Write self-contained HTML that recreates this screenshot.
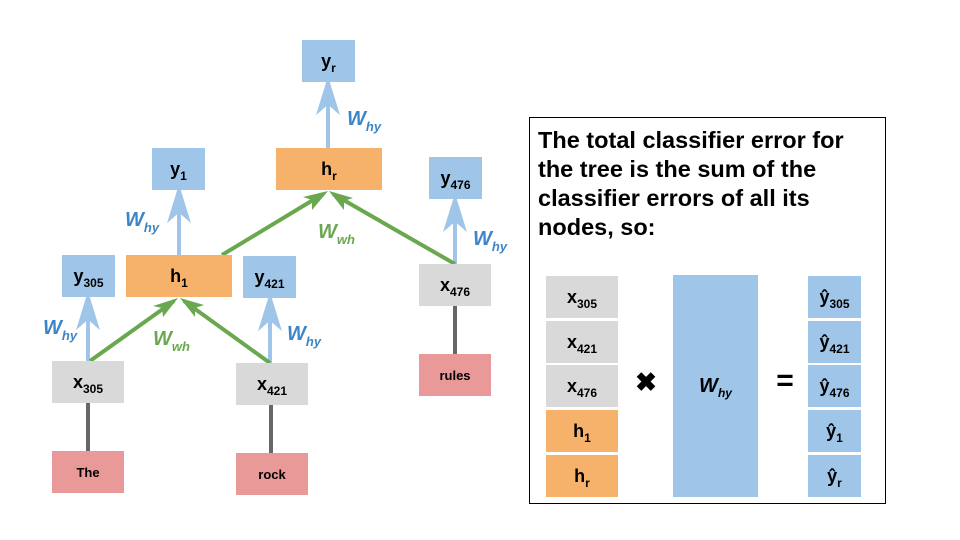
<!DOCTYPE html>
<html><head><meta charset="utf-8"><style>
body{margin:0;width:960px;height:540px;background:#fff;position:relative;overflow:hidden;font-family:"Liberation Sans",Arial,sans-serif;}
.b{position:absolute;display:flex;align-items:center;justify-content:center;font-weight:bold;font-size:18px;color:#000;}
.b sub{font-size:12px;vertical-align:-5px;line-height:0;}
.blue{background:#9fc5e8}.org{background:#f6b26b}.gray{background:#d9d9d9}.red{background:#ea9999}
.w{position:absolute;font-weight:bold;font-style:italic;font-size:20px;}
.w sub{font-size:13px;vertical-align:-6px;line-height:0;}
.wb{color:#3d85c6}.wg{color:#6aa84f}
svg{position:absolute;left:0;top:0}
</style></head><body>
<svg width="960" height="540">
<g stroke="#666" stroke-width="4">
<line x1="88" y1="403" x2="88" y2="451"/>
<line x1="271" y1="405" x2="271" y2="453"/>
<line x1="455" y1="306" x2="455" y2="354"/>
</g>
<g stroke="#9fc5e8" stroke-width="4" fill="#9fc5e8">
<line x1="328" y1="148" x2="328" y2="92"/><polygon points="328,83 320,109 328,102 336,109"/>
<line x1="179" y1="255" x2="179" y2="200"/><polygon points="179,191 171,217 179,210 187,217"/>
<line x1="88" y1="361" x2="88" y2="307"/><polygon points="88,298 80,324 88,317 96,324"/>
<line x1="270" y1="363" x2="270" y2="308"/><polygon points="270,299 262,325 270,318 278,325"/>
<line x1="455" y1="264" x2="455" y2="209"/><polygon points="455,200 447,226 455,219 463,226"/>
</g>
<g stroke="#6aa84f" stroke-width="4" fill="none">
<line x1="90" y1="361" x2="174" y2="301"/>
<line x1="270" y1="363" x2="184" y2="301"/>
<line x1="222" y1="255" x2="323" y2="194"/>
<line x1="455" y1="264" x2="333" y2="194"/>
</g>
<g fill="#6aa84f">
<polygon points="178,298 153,306 162,308 163,317"/>
<polygon points="180,298 195,317 195,308 204,305"/>
<polygon points="328,191 303,197 312,200 312,210"/>
<polygon points="329,191 344,210 344,201 353,198"/>
</g>
</svg>

<div class="b blue" style="left:302px;top:40px;width:53px;height:42px"><span>y<sub>r</sub></span></div>
<div class="b org" style="left:276px;top:148px;width:106px;height:42px"><span>h<sub>r</sub></span></div>
<div class="b blue" style="left:152px;top:148px;width:53px;height:42px"><span>y<sub>1</sub></span></div>
<div class="b blue" style="left:429px;top:157px;width:53px;height:42px"><span>y<sub>476</sub></span></div>
<div class="b org" style="left:126px;top:255px;width:106px;height:42px"><span>h<sub>1</sub></span></div>
<div class="b blue" style="left:62px;top:255px;width:53px;height:42px"><span>y<sub>305</sub></span></div>
<div class="b blue" style="left:243px;top:256px;width:53px;height:42px"><span>y<sub>421</sub></span></div>
<div class="b gray" style="left:419px;top:264px;width:72px;height:42px"><span>x<sub>476</sub></span></div>
<div class="b gray" style="left:52px;top:361px;width:72px;height:42px"><span>x<sub>305</sub></span></div>
<div class="b gray" style="left:236px;top:363px;width:72px;height:42px"><span>x<sub>421</sub></span></div>
<div class="b red" style="left:52px;top:451px;width:72px;height:42px;font-size:13px">The</div>
<div class="b red" style="left:236px;top:453px;width:72px;height:42px;font-size:13px">rock</div>
<div class="b red" style="left:419px;top:354px;width:72px;height:42px;font-size:13px">rules</div>

<div class="w wb" style="left:347px;top:108px">W<sub>hy</sub></div>
<div class="w wb" style="left:125px;top:209px">W<sub>hy</sub></div>
<div class="w wb" style="left:43px;top:317px">W<sub>hy</sub></div>
<div class="w wb" style="left:287px;top:323px">W<sub>hy</sub></div>
<div class="w wb" style="left:473px;top:228px">W<sub>hy</sub></div>
<div class="w wg" style="left:153px;top:328px">W<sub>wh</sub></div>
<div class="w wg" style="left:318px;top:221px">W<sub>wh</sub></div>

<div style="position:absolute;left:529px;top:117px;width:355px;height:385px;border:1.5px solid #000"></div>
<div style="position:absolute;left:538px;top:126px;font-weight:bold;font-size:23.5px;line-height:29px;white-space:nowrap">The total classifier error for<br>the tree is the sum of the<br>classifier errors of all its<br>nodes, so:</div>

<div class="b gray" style="left:546px;top:276px;width:72px;height:42px"><span>x<sub>305</sub></span></div>
<div class="b gray" style="left:546px;top:321px;width:72px;height:42px"><span>x<sub>421</sub></span></div>
<div class="b gray" style="left:546px;top:365px;width:72px;height:42px"><span>x<sub>476</sub></span></div>
<div class="b org" style="left:546px;top:410px;width:72px;height:42px"><span>h<sub>1</sub></span></div>
<div class="b org" style="left:546px;top:455px;width:72px;height:42px"><span>h<sub>r</sub></span></div>
<div class="b" style="left:632px;top:368px;width:28px;height:28px;font-size:26px">✖</div>
<div class="b blue" style="left:673px;top:275px;width:85px;height:222px;font-size:20px"><span style="font-style:italic">W<sub>hy</sub></span></div>
<div class="b" style="left:770px;top:366px;width:30px;height:30px;font-size:30px">=</div>
<div class="b blue" style="left:808px;top:276px;width:53px;height:42px"><span>ŷ<sub>305</sub></span></div>
<div class="b blue" style="left:808px;top:321px;width:53px;height:42px"><span>ŷ<sub>421</sub></span></div>
<div class="b blue" style="left:808px;top:365px;width:53px;height:42px"><span>ŷ<sub>476</sub></span></div>
<div class="b blue" style="left:808px;top:410px;width:53px;height:42px"><span>ŷ<sub>1</sub></span></div>
<div class="b blue" style="left:808px;top:455px;width:53px;height:42px"><span>ŷ<sub>r</sub></span></div>
</body></html>
